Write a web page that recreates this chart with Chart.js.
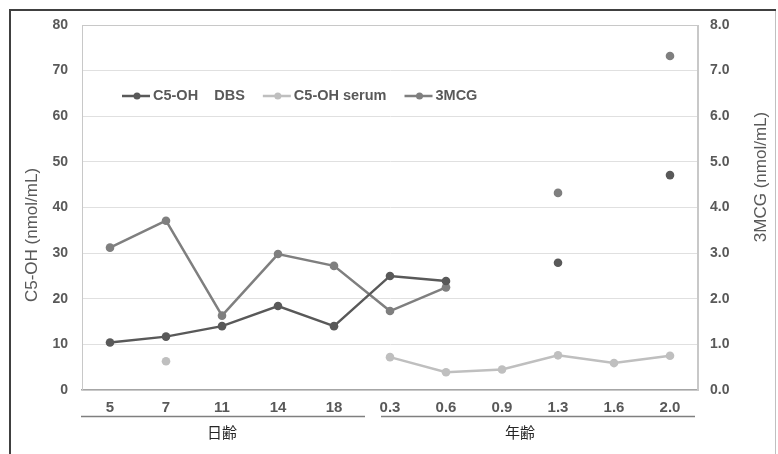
<!DOCTYPE html>
<html>
<head>
<meta charset="utf-8">
<script src="https://cdn.jsdelivr.net/npm/chart.js@4.4.1/dist/chart.umd.min.js"></script>
<style>
  html, body { margin: 0; padding: 0; background: #fff; }
  #wrap { width: 778px; height: 454px; position: relative; }
</style>
</head>
<body>
<div id="wrap"><canvas id="chart" width="778" height="454"></canvas></div>
<script>
const categories = ['5', '7', '11', '14', '18', '0.3', '0.6', '0.9', '1.3', '1.6', '2.0'];
const dbsValues   = [10.4, 11.7, 14.0, 18.4, 14.0, 25.0, 23.9, null, 27.9, null, 47.1];
const serumValues = [null, 6.3, null, null, null, 7.2, 3.9, 4.5, 7.6, 5.9, 7.5];
const mcgValues   = [3.12, 3.71, 1.63, 2.98, 2.72, 1.73, 2.25, null, 4.32, null, 7.32];
const seriesNames = ['C5-OH    DBS', 'C5-OH serum', '3MCG'];
const seriesColors = ['#595959', '#bfbfbf', '#7f7f7f'];
const leftTicks = { min: 0, max: 80, step: 10 };
const rightTicks = { min: 0, max: 8, step: 1 };
const groups = [
  { label: '日齢', from: 0, to: 4 },
  { label: '年齢', from: 5, to: 10 }
];

const textColor = '#595959';

function makeSet(i, data, axis) {
  return {
    label: seriesNames[i],
    data: data,
    yAxisID: axis,
    borderColor: seriesColors[i],
    backgroundColor: seriesColors[i],
    pointBackgroundColor: seriesColors[i],
    pointBorderColor: seriesColors[i],
    borderWidth: 2.5,
    pointRadius: 4.3,
    pointBorderWidth: 0,
    tension: 0,
    spanGaps: false
  };
}

const decorations = {
  id: 'decorations',
  beforeDatasetsDraw(chart) {
    const { ctx, chartArea: a } = chart;
    ctx.save();
    ctx.strokeStyle = '#c8c8c8';
    ctx.lineWidth = 1;
    ctx.strokeRect(a.left + 0.5, a.top + 0.5, a.right - a.left - 1, a.bottom - a.top);
    ctx.restore();
  },
  afterDraw(chart) {
    const { ctx, chartArea: a, scales } = chart;
    const x = scales.x;
    ctx.save();

    // outer frame
    ctx.strokeStyle = '#c0c0c0';
    ctx.lineWidth = 1;
    ctx.beginPath();
    ctx.moveTo(775.5, 10);
    ctx.lineTo(775.5, 454);
    ctx.stroke();
    ctx.strokeStyle = '#404040';
    ctx.lineWidth = 2;
    ctx.beginPath();
    ctx.moveTo(10, 454);
    ctx.lineTo(10, 10);
    ctx.lineTo(776, 10);
    ctx.stroke();

    // axis titles
    ctx.fillStyle = textColor;
    ctx.font = '17px "Liberation Sans", Arial, sans-serif';
    ctx.textAlign = 'center';
    ctx.textBaseline = 'middle';
    ctx.save();
    ctx.translate(32, 235);
    ctx.rotate(-Math.PI / 2);
    ctx.fillText('C5-OH (nmol/mL)', 0, 0);
    ctx.restore();
    ctx.save();
    ctx.translate(761, 177);
    ctx.rotate(-Math.PI / 2);
    ctx.fillText('3MCG (nmol/mL)', 0, 0);
    ctx.restore();

    // category groups under the x axis
    ctx.strokeStyle = '#7f7f7f';
    ctx.lineWidth = 1.5;
    ctx.fillStyle = '#262626';
    ctx.font = '15px "Noto Sans CJK JP", sans-serif';
    groups.forEach((g, i) => {
      const x0 = i === 0 ? a.left - 1 : x.getPixelForValue(g.from) - 9;
      const x1 = i === 0 ? x.getPixelForValue(g.to) + 31 : a.right - 3;
      ctx.beginPath();
      ctx.moveTo(x0, 416.5);
      ctx.lineTo(x1, 416.5);
      ctx.stroke();
      const cx = i === 0 ? x.getPixelForValue((g.from + g.to) / 2)
                         : x.getPixelForValue((g.from + g.to) / 2) - 10;
      ctx.fillText(g.label, cx, 432);
    });

    // legend inside the plot
    ctx.font = 'bold 14.5px "Liberation Sans", Arial, sans-serif';
    ctx.textAlign = 'left';
    let lx = 122;
    const ly = 96;
    seriesNames.forEach((name, i) => {
      ctx.strokeStyle = seriesColors[i];
      ctx.fillStyle = seriesColors[i];
      ctx.lineWidth = 2.5;
      ctx.beginPath();
      ctx.moveTo(lx, ly);
      ctx.lineTo(lx + 28, ly);
      ctx.stroke();
      ctx.beginPath();
      ctx.arc(lx + 15, ly, 3.5, 0, Math.PI * 2);
      ctx.fill();
      ctx.fillStyle = textColor;
      ctx.fillText(name, lx + 31, ly);
      lx += 31 + ctx.measureText(name).width + 18;
    });
    ctx.restore();
  }
};

new Chart(document.getElementById('chart'), {
  type: 'line',
  data: {
    labels: categories,
    datasets: [
      makeSet(0, dbsValues, 'y'),
      makeSet(1, serumValues, 'y'),
      makeSet(2, mcgValues, 'y1')
    ]
  },
  options: {
    responsive: false,
    animation: false,
    layout: { padding: { top: 25, left: 0, right: 0, bottom: 0 } },
    plugins: {
      legend: { display: false },
      title: { display: false },
      tooltip: { enabled: false }
    },
    scales: {
      x: {
        offset: true,
        grid: { display: false, drawTicks: false },
        border: { display: true, color: '#a6a6a6', width: 1.5 },
        ticks: {
          color: textColor,
          padding: 9,
          maxRotation: 0,
          autoSkip: false,
          font: { family: '"Liberation Sans", Arial, sans-serif', size: 15, weight: 'bold' }
        },
        afterFit(scale) { scale.height = 64; }
      },
      y: {
        position: 'left',
        min: leftTicks.min,
        max: leftTicks.max,
        grid: { color: '#e0e0e0', drawTicks: false },
        border: { display: true, color: '#c8c8c8' },
        ticks: {
          stepSize: leftTicks.step,
          color: textColor,
          padding: 14,
          font: { family: '"Liberation Sans", Arial, sans-serif', size: 14, weight: 'bold' }
        },
        afterFit(scale) { scale.width = 82; }
      },
      y1: {
        position: 'right',
        min: rightTicks.min,
        max: rightTicks.max,
        grid: { display: false, drawTicks: false },
        border: { display: true, color: '#c8c8c8' },
        ticks: {
          stepSize: rightTicks.step,
          color: textColor,
          padding: 12,
          callback: v => Number(v).toFixed(1),
          font: { family: '"Liberation Sans", Arial, sans-serif', size: 14, weight: 'bold' }
        },
        afterFit(scale) { scale.width = 80; }
      }
    }
  },
  plugins: [decorations]
});
</script>
</body>
</html>
